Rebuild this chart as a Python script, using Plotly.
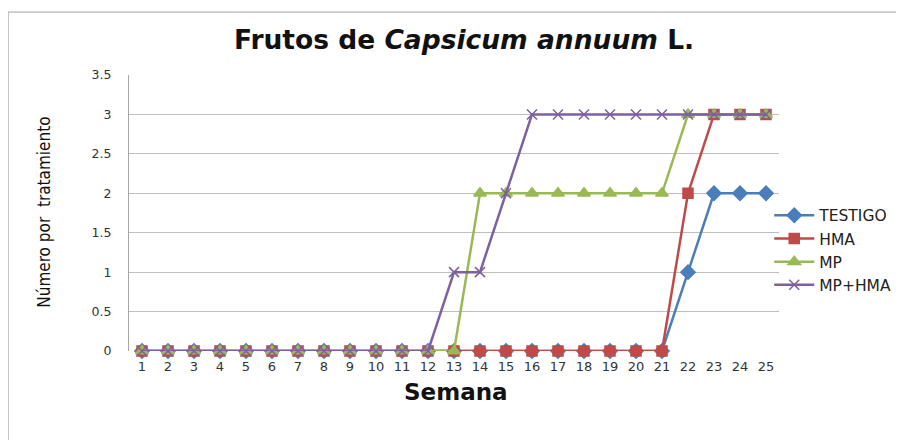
import plotly.graph_objects as go

semanas = list(range(1, 26))
testigo = [0]*21 + [1, 2, 2, 2]
hma = [0]*21 + [2, 3, 3, 3]
mp = [0]*13 + [2]*8 + [3, 3, 3, 3]
mp_hma = [0]*12 + [1, 1, 2] + [3]*10

series = [
    ("TESTIGO", testigo, "#4A7EBB", "diamond", 11),
    ("HMA", hma, "#BE4B48", "square", 10),
    ("MP", mp, "#98B954", "triangle-up", 11),
    ("MP+HMA", mp_hma, "#7D60A0", "x-thin-open", 10),
]

fig = go.Figure()
for name, vals, color, sym, sz in series:
    fig.add_trace(go.Scatter(
        x=semanas, y=vals, name=name, mode="lines+markers",
        cliponaxis=False,
        line=dict(color=color, width=2.5),
        marker=dict(symbol=sym, size=sz, color=color,
                    line=dict(color=color, width=1.5)),
    ))

fig.update_layout(
    width=896, height=432,
    margin=dict(l=121, r=125, t=67, b=89, autoexpand=False),
    paper_bgcolor="white", plot_bgcolor="white",
    title=dict(text="<b>Frutos de <i>Capsicum annuum</i> L.</b>",
               x=0.509, xanchor="center", y=0.926, yanchor="middle",
               font=dict(family="DejaVu Sans", size=26.5, color="#111")),
    xaxis=dict(range=[0.5, 25.5], tickmode="array", tickvals=semanas,
               ticktext=[str(s) for s in semanas], showgrid=False,
               zeroline=False, showline=False, ticklabelstandoff=6,
               automargin=False,
               tickfont=dict(family="DejaVu Sans", size=13, color="#333")),
    yaxis=dict(range=[0, 3.5], dtick=0.5, showgrid=True, gridcolor="#BEBEBE",
               gridwidth=1, zeroline=False, showline=True, linecolor="#A6A6A6",
               ticks="", ticklen=0, ticklabelstandoff=14, automargin=False,
               tickfont=dict(family="DejaVu Sans", size=12.5, color="#333")),
    legend=dict(x=0.985, xanchor="left", y=0.365, yanchor="middle",
                font=dict(family="DejaVu Sans", size=15.5, color="#222"),
                tracegroupgap=0, itemwidth=40, bgcolor="rgba(0,0,0,0)"),
    showlegend=True,
    annotations=[
        dict(text="<b>Semana</b>", xref="paper", yref="paper", x=0.503, y=-0.149,
             xanchor="center", yanchor="middle", showarrow=False,
             font=dict(family="DejaVu Sans", size=23, color="#111")),
        dict(text="Número por  tratamiento", xref="paper", yref="paper",
             x=-0.131, y=0.504, xanchor="center", yanchor="middle",
             textangle=-90, showarrow=False,
             font=dict(family="DejaVu Sans Condensed", size=17, color="#111")),
    ],
)
fig.add_shape(type="rect", xref="paper", yref="paper",
              x0=-0.186, x1=1.25, y0=-0.5, y1=1.228,
              line=dict(color="#A0A0A0", width=1), layer="below")
fig.write_html("out.html")
